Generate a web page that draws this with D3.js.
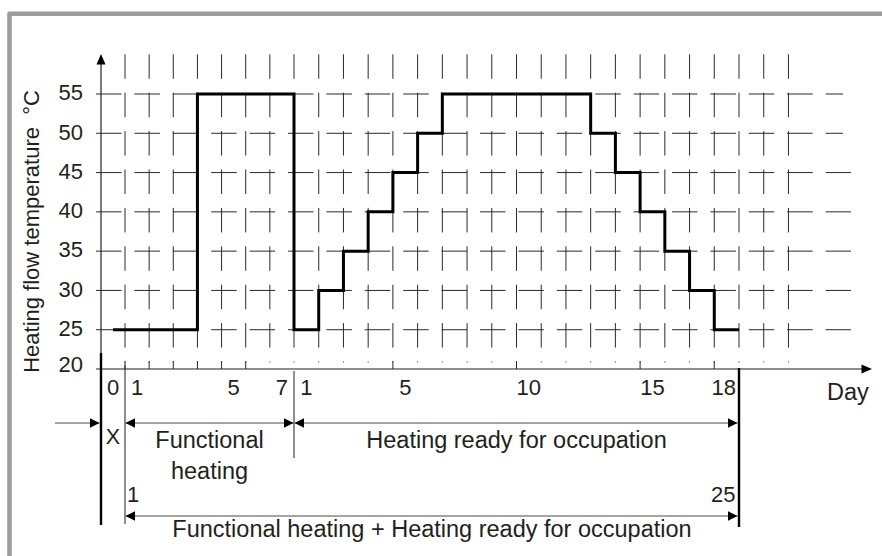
<!DOCTYPE html>
<html>
<head>
<meta charset="utf-8">
<script src="https://cdn.jsdelivr.net/npm/d3@7"></script>
<style>
  html, body { margin: 0; padding: 0; background: #fff; }
  svg { display: block; font-family: "Liberation Sans", Arial, Helvetica, sans-serif; }
  text { fill: #231f20; }
</style>
</head>
<body>
<svg id="chart" width="882" height="556"></svg>
<script>
// Temperature axis
const yTicks = [20, 25, 30, 35, 40, 45, 50, 55];

// Lead-in period "X" before day 1
const leadInTemp = [25];

// Functional heating, days 1–7
const functionalDays  = [1, 2, 3, 4, 5, 6, 7];
const functionalTemps = [25, 25, 25, 55, 55, 55, 55];

// Heating ready for occupation, days 1–18
const readyDays  = [1, 2, 3, 4, 5, 6, 7, 8, 9, 10, 11, 12, 13, 14, 15, 16, 17, 18];
const readyTemps = [25, 30, 35, 40, 45, 50, 55, 55, 55, 55, 55, 55, 50, 45, 40, 35, 30, 25];

// Day labels and tick marks along the time axis
const functionalDayLabels = [1, 5, 7];
const readyDayLabels      = [1, 5, 10, 15, 18];
const functionalTickDays  = [1, 2, 3, 4, 5, 6];
const readyTickDays       = [5, 10, 15, 18];

// Combined programme: 1 + 24 days
const combinedStart = 1, combinedEnd = 25;

const svg = d3.select("#chart");
const ink = "#231f20";
const gridColor = "#2a2a2a";

// Timeline in day slots: slot 0 = X, slots 1..7 functional, slots 8..25 ready
const nFunc = functionalDays.length;
const nReady = readyDays.length;
const funcSlot  = d => d;
const readySlot = d => nFunc + d;
const endSlot = nFunc + nReady + 1;

const x = d3.scaleLinear()
  .domain([0, 1, nFunc + 1, endSlot])
  .range([101, 125, 294, 739]);
const y = d3.scaleLinear().domain([20, 55]).range([369, 94]);

// Outer frame (top and left edges)
svg.append("path")
  .attr("d", "M9.5,556 V13.8 H882")
  .attr("fill", "none").attr("stroke", "#9c9c9c")
  .attr("stroke-width", 4.6).attr("stroke-linejoin", "round");

// Dashed grid: horizontals at each temperature step
const grid = svg.append("g");
yTicks.filter(v => v > 20).forEach(v => {
  grid.append("line")
    .attr("x1", 96).attr("x2", v >= 50 ? 843 : 851)
    .attr("y1", y(v)).attr("y2", y(v))
    .attr("stroke", gridColor).attr("stroke-width", 1)
    .attr("stroke-dasharray", "25.5,12.9");
});
// Dashed grid: verticals at each day boundary
d3.range(1, endSlot + 3).forEach(s => {
  grid.append("line")
    .attr("x1", x(s)).attr("x2", x(s))
    .attr("y1", 54.3).attr("y2", 362.5)
    .attr("stroke", gridColor).attr("stroke-width", 1)
    .attr("stroke-dasharray", "24.5,13.9");
});

// Tick marks on the time axis
functionalTickDays.map(funcSlot).concat(readyTickDays.map(d => readySlot(d)))
  .forEach(s => {
    svg.append("line")
      .attr("x1", x(s)).attr("x2", x(s))
      .attr("y1", 361).attr("y2", 369)
      .attr("stroke", gridColor).attr("stroke-width", 1);
  });

// Axes with arrowheads
svg.append("line").attr("x1", x(0)).attr("x2", x(0))
  .attr("y1", 62).attr("y2", 354)
  .attr("stroke", ink).attr("stroke-width", 1.2);
svg.append("path").attr("d", `M${x(0)},54 L${x(0) - 4.5},64.5 L${x(0) + 4.5},64.5 Z`)
  .attr("fill", "#000");
svg.append("line").attr("x1", 96).attr("x2", 864)
  .attr("y1", y(20)).attr("y2", y(20))
  .attr("stroke", ink).attr("stroke-width", 1.2);
svg.append("path").attr("d", `M872,${y(20)} L861.5,${y(20) - 4.5} L861.5,${y(20) + 4.5} Z`)
  .attr("fill", "#000");

// Temperature tick labels
svg.append("g").selectAll("text").data(yTicks).join("text")
  .attr("x", 83).attr("y", v => y(v) + (v === 20 ? 3 : 6.3))
  .attr("text-anchor", "end").attr("font-size", 22)
  .text(v => v);

// Axis titles
svg.append("text")
  .attr("transform", "translate(39,231.5) rotate(-90)")
  .attr("text-anchor", "middle").attr("font-size", 22)
  .style("white-space", "pre")
  .text("Heating flow temperature  °C");
svg.append("text").attr("x", 827).attr("y", 400)
  .attr("font-size", 23.5).text("Day");

// Day labels
const dayLabelY = 395;
svg.append("text").attr("x", x(0.5)).attr("y", dayLabelY)
  .attr("text-anchor", "middle").attr("font-size", 22).text("0");
svg.append("g").selectAll("text").data(functionalDayLabels).join("text")
  .attr("x", d => x(funcSlot(d) + 0.5)).attr("y", dayLabelY)
  .attr("text-anchor", "middle").attr("font-size", 22).text(d => d);
svg.append("g").selectAll("text").data(readyDayLabels).join("text")
  .attr("x", d => x(readySlot(d) + 0.5) - (d === 18 ? 3 : 0)).attr("y", dayLabelY)
  .attr("text-anchor", "middle").attr("font-size", 22).text(d => d);

// Heating flow temperature profile (step line)
const profile = [{ s: 0.5, t: leadInTemp[0] }]
  .concat(functionalDays.map((d, i) => ({ s: funcSlot(d), t: functionalTemps[i] })))
  .concat(readyDays.map((d, i) => ({ s: readySlot(d), t: readyTemps[i] })));
profile.push({ s: endSlot, t: readyTemps[readyTemps.length - 1] });

svg.append("path")
  .datum(profile)
  .attr("d", d3.line().x(p => x(p.s)).y(p => y(p.t)).curve(d3.curveStepAfter))
  .attr("fill", "none").attr("stroke", "#000")
  .attr("stroke-width", 3).attr("stroke-linejoin", "miter");

// Phase boundaries below the axis
const ann = svg.append("g");
ann.append("line").attr("x1", x(0)).attr("x2", x(0)).attr("y1", 353).attr("y2", 525)
  .attr("stroke", "#000").attr("stroke-width", 2.4);
ann.append("line").attr("x1", x(endSlot)).attr("x2", x(endSlot)).attr("y1", 368).attr("y2", 527)
  .attr("stroke", "#000").attr("stroke-width", 2.4);
ann.append("line").attr("x1", x(1)).attr("x2", x(1)).attr("y1", 365).attr("y2", 524)
  .attr("stroke", ink).attr("stroke-width", 1);
ann.append("line").attr("x1", x(nFunc + 1)).attr("x2", x(nFunc + 1)).attr("y1", 371).attr("y2", 458)
  .attr("stroke", ink).attr("stroke-width", 1);

// Dimension arrows
function head(g, tipX, yy, dir) {
  // dir = +1 points right, -1 points left
  g.append("path")
    .attr("d", `M${tipX},${yy} L${tipX - dir * 9.5},${yy - 4.8} L${tipX - dir * 9.5},${yy + 4.8} Z`)
    .attr("fill", "#000");
}
function span(g, x1, x2, yy, leftHead, rightHead) {
  g.append("line").attr("x1", x1).attr("x2", x2).attr("y1", yy).attr("y2", yy)
    .attr("stroke", "#4a4a4a").attr("stroke-width", 1);
  if (leftHead) head(g, x1, yy, -1);
  if (rightHead) head(g, x2, yy, 1);
}
const arrowY1 = 423, arrowY2 = 516;
span(ann, 55, x(0) - 1.5, arrowY1, false, true);
span(ann, x(1) + 0.5, x(nFunc + 1) - 0.5, arrowY1, true, true);
span(ann, x(nFunc + 1) + 0.5, x(endSlot) - 1.5, arrowY1, true, true);
span(ann, x(1) + 0.5, x(endSlot) - 1.5, arrowY2, true, false);
head(ann, x(endSlot) - 1.5, arrowY2, 1);

// Phase texts
const fs = 23.5;
ann.append("text").attr("x", x(0.5)).attr("y", 443.5)
  .attr("text-anchor", "middle").attr("font-size", 21.5).text("X");
ann.append("text").attr("x", (x(1) + x(nFunc + 1)) / 2).attr("y", 447.5)
  .attr("text-anchor", "middle").attr("font-size", fs).text("Functional");
ann.append("text").attr("x", (x(1) + x(nFunc + 1)) / 2).attr("y", 478.5)
  .attr("text-anchor", "middle").attr("font-size", fs).text("heating");
ann.append("text").attr("x", (x(nFunc + 1) + x(endSlot)) / 2).attr("y", 447.5)
  .attr("text-anchor", "middle").attr("font-size", fs).text("Heating ready for occupation");
ann.append("text").attr("x", x(1) + 2).attr("y", 502)
  .attr("font-size", 22).text(combinedStart);
ann.append("text").attr("x", x(endSlot) - 3.5).attr("y", 502)
  .attr("text-anchor", "end").attr("font-size", 22).text(combinedEnd);
ann.append("text").attr("x", (x(1) + x(endSlot)) / 2).attr("y", 537)
  .attr("text-anchor", "middle").attr("font-size", fs)
  .text("Functional heating + Heating ready for occupation");
</script>
</body>
</html>
